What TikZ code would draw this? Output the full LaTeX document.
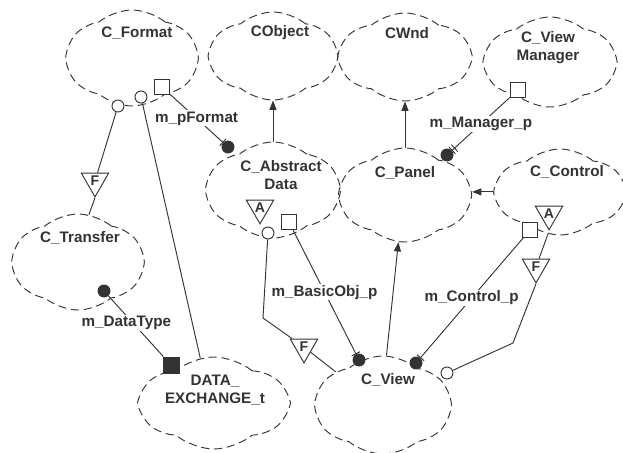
\documentclass[tikz,border=0pt]{standalone}
\usepackage{fontspec}
\setmainfont{Liberation Sans}
\usetikzlibrary{shapes.symbols, shapes.geometric, arrows.meta, positioning}
\tikzset{>={Triangle[length=8pt,width=6pt]}}
\tikzset{
  cls/.style={cloud, draw, dash pattern=on 7pt off 4pt, cloud puffs=6, cloud puff arc=80,
    cloud ignores aspect, inner sep=0pt},
  clsname/.style={font=\bfseries\fontsize{13}{15.5}\selectfont, align=center, inner sep=1pt},
  rolename/.style={font=\bfseries\fontsize{13}{15.5}\selectfont, fill=white, inner sep=1pt},
  opencirc/.style={circle, draw, fill=white, minimum size=0.36cm, inner sep=0pt},
  fillcirc/.style={circle, draw, fill=black!80, minimum size=0.36cm, inner sep=0pt},
  opensq/.style={rectangle, draw, fill=white, minimum size=0.45cm, inner sep=0pt},
  fillsq/.style={rectangle, draw, fill=black!80, minimum size=0.48cm, inner sep=0pt},
  adorn/.style={regular polygon, regular polygon sides=3, shape border rotate=180, draw,
    fill=white, minimum size=0.95cm, inner sep=0pt, font=\bfseries\fontsize{12}{12}\selectfont},
}

\begin{document}
\begin{tikzpicture}[thick, x=0.03cm, y=-0.03cm, color=black!80]
    \useasboundingbox (0,0) rectangle (623,452);

    % classes
    \node[cls, minimum width=3.9cm, minimum height=2.88cm] (fmt) at (132,58) {};
    \node[cls, minimum width=3.78cm, minimum height=2.64cm] (cobj) at (273,56) {};
    \node[cls, minimum width=3.9cm, minimum height=2.64cm] (cwnd) at (405,57) {};
    \node[cls, minimum width=3.9cm, minimum height=2.7cm] (cvm) at (550,62) {};
    \node[cls, minimum width=3.96cm, minimum height=2.88cm] (cad) at (273,190) {};
    \node[cls, minimum width=3.9cm, minimum height=2.82cm] (cpan) at (405,195) {};
    \node[cls, minimum width=3.84cm, minimum height=2.58cm] (cctl) at (560,192) {};
    \node[cls, minimum width=3.9cm, minimum height=2.88cm] (ctr) at (78,262) {};
    \node[cls, minimum width=4.38cm, minimum height=2.76cm] (dex) at (214,403) {};
    \node[cls, minimum width=4.02cm, minimum height=2.94cm] (cview) at (383,405) {};

    \node[clsname] (fmt-t) at (137,33) {C\_Format};
    \node[clsname] (cobj-t) at (280,33) {CObject};
    \node[clsname] (cwnd-t) at (407,33) {CWnd};
    \node[clsname] (cvm-t) at (548,48) {C\_View\\Manager};
    \node[clsname] (cad-t) at (281,175) {C\_Abstract\\Data};
    \node[clsname] (cpan-t) at (405,173) {C\_Panel};
    \node[clsname] (cctl-t) at (567,172) {C\_Control};
    \node[clsname] (ctr-t) at (80,238) {C\_Transfer};
    \node[clsname] (dex-t) at (215,390) {DATA\_\\EXCHANGE\_t};
    \node[clsname] (cview-t) at (388,380) {C\_View};

    % adornments
    \node[opencirc] (fmtC1) at (118,106) {};
    \node[opencirc] (fmtC2) at (141,97) {};
    \node[opensq] (fmtS) at (162,87) {};
    \node[fillcirc] (cadP) at (228,147) {};
    \node[adorn] (cadA) at (260,208) {A};
    \node[opensq] (cadS) at (289,222) {};
    \node[opencirc] (cadC) at (268,233) {};
    \node[opensq] (cvmS) at (518,90) {};
    \node[fillcirc] (cpanP) at (447,155) {};
    \node[adorn] (cctlA) at (549,214) {A};
    \node[opensq] (cctlS) at (530,230) {};
    \node[adorn] (cctlF) at (536,267) {F};
    \node[adorn] (trF) at (95,181) {F};
    \node[fillcirc] (ctrP) at (104,291) {};
    \node[fillsq] (dexS) at (171,365) {};
    \node[adorn] (cadF) at (304,347) {F};
    \node[fillcirc] (cviewP1) at (359,360) {};
    \node[fillcirc] (cviewP2) at (416,363) {};
    \node[opencirc] (cviewC) at (447,373) {};

    % relations
    \draw (fmtC1) -- (trF);
    \draw (trF.corner 1) -- (ctr.77);
    \draw (fmtC2) -- (dex.107);
    \draw[-{Bar[width=8pt]}] (fmtS) -- node[rolename]{m\_pFormat} (cadP);
    \draw[->] (cad.north) -- (cobj.south);
    \draw[->] (cpan.north) -- (cwnd.south);
    \draw[-{Bar[width=8pt,sep=2pt]Bar[width=8pt]}] (cvmS) -- node[rolename]{m\_Manager\_p} (cpanP);
    \draw[->] (cctl.west) -- (cpan.east |- cctl.west);
    \draw (ctrP) -- node[rolename, pos=.45, xshift=-0.2cm]{m\_DataType} (dexS);
    \draw (cadC) -- (263,318) -- (cadF);
    \draw (cadF) -- (cview.145);
    \draw[-{Bar[width=8pt]}] (cadS) -- node[rolename]{m\_BasicObj\_p} (cviewP1);
    \draw[->] (cview.86) -- (cpan.262);
    \draw[-{Bar[width=8pt]}] (cctlS) -- node[rolename]{m\_Control\_p} (cviewP2);
    \draw (cctl.254) -- (cctlF);
    \draw (cctlF.corner 1) -- (513,343) -- (cviewC);
\end{tikzpicture}
\end{document}
